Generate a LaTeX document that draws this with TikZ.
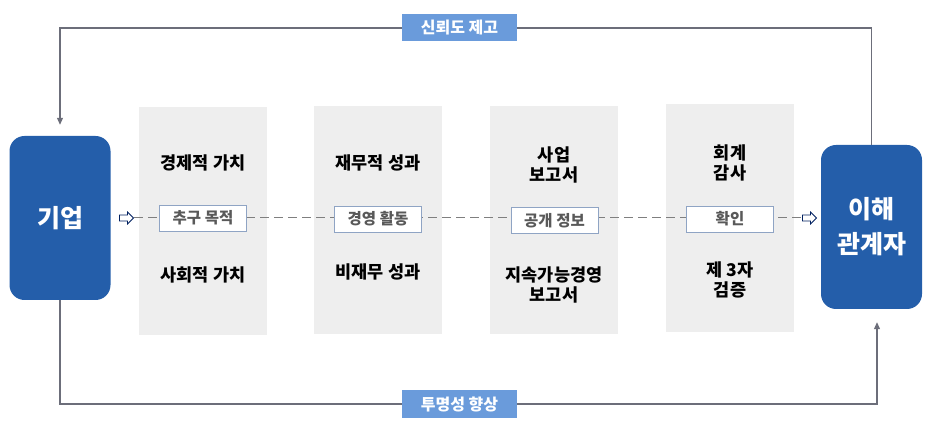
\documentclass[tikz,border=0pt]{standalone}
\usepackage{fontspec}
\setmainfont{Noto Sans CJK KR}
\usepackage{tikz}
\usetikzlibrary{arrows.meta, positioning, shapes.arrows}
\definecolor{corpblue}{RGB}{36,94,170}
\definecolor{tagblue}{RGB}{106,155,219}
\definecolor{panelgray}{RGB}{238,238,238}
\definecolor{linegray}{RGB}{108,110,122}
\definecolor{dashgray}{RGB}{127,127,127}
\definecolor{tagline}{RGB}{143,164,196}
\definecolor{tagtext}{RGB}{89,89,89}
\definecolor{navy}{RGB}{0,32,96}
\begin{document}
\begin{tikzpicture}[x=1pt,y=-1pt,
    party/.style={fill=corpblue, rounded corners=15pt, minimum width=101pt, minimum height=164pt, text=white, font=\fontsize{25}{35}\selectfont\bfseries, align=center},
    panel/.style={fill=panelgray, minimum width=128pt, minimum height=228pt},
    ptext/.style={font=\fontsize{17.5}{20}\selectfont\bfseries, align=center},
    tagbox/.style={draw=tagline, line width=0.9pt, fill=white, minimum width=87pt, minimum height=26pt, inner sep=0pt, text=tagtext, font=\fontsize{15.5}{17}\selectfont\bfseries},
    banner/.style={fill=tagblue, minimum width=115pt, minimum height=27pt, inner sep=0pt, text=white, font=\fontsize{16}{18}\selectfont\bfseries},
    hollow/.style={single arrow, draw=navy, fill=white, line width=0.8pt, minimum width=12pt, minimum height=14pt, single arrow head extend=3pt, inner sep=2.5pt},
    fb/.style={draw=linegray, line width=1.1pt, -{Triangle[length=7pt,width=6pt]}}]
    \useasboundingbox (0,0) rectangle (929,427);
    \node[party] (corp) at (60,218) {기업};
    \node[party] (stake) at (871.5,227) {이해\\관계자};
    \node[panel] (p1) at (203,221) {};
    \node[panel] (p2) at (378,220) {};
    \node[panel] (p3) at (554,220) {};
    \node[panel] (p4) at (730,218) {};
    \node[ptext] (econ) at (203,163) {경제적 가치};
    \node[ptext] (soc) at (203,275) {사회적 가치};
    \node[ptext] (fin) at (378,163) {재무적 성과};
    \node[ptext] (nonfin) at (378,272) {비재무 성과};
    \node[ptext] (biz) at (554,165) {사업\\보고서};
    \node[ptext] (sust) at (554,285) {지속가능경영\\보고서};
    \node[ptext] (audit) at (730,163) {회계\\감사};
    \node[ptext] (third) at (730,280) {제 3자\\검증};
    \node[hollow] (arrL) at (125,218) {};
    \node[hollow] (arrR) at (808,218) {};
    \draw[dashgray, line width=1pt, dash pattern=on 9pt off 5pt] (arrL.east) -- (arrR.west);
    \node[tagbox] (goal) at (203,218) {추구 목적};
    \node[tagbox] (mgmt) at (378,219) {경영 활동};
    \node[tagbox] (disc) at (554.5,220.5) {공개 정보};
    \node[tagbox] (check) at (730,219) {확인};
    \coordinate (tl) at (60,28);
    \coordinate (br) at (877,404);
    \draw[fb, shorten >=11pt] (stake.north) |- (tl) -- (corp.north);
    \draw[fb, shorten >=13pt] (corp.south) |- (br) -- (br |- stake.south);
    \node[banner] (trust) at (459.5,27.5) {신뢰도 제고};
    \node[banner] (transp) at (459.5,404) {투명성 향상};
\end{tikzpicture}
\end{document}
